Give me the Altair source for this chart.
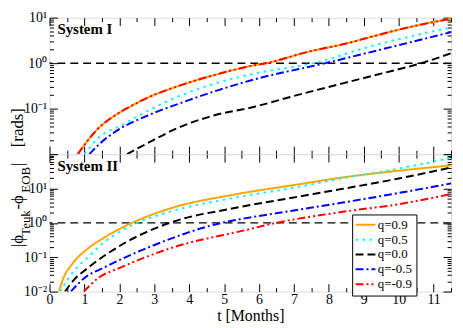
import altair as alt
import pandas as pd

FONT = "Liberation Serif"

QS = ["q=0.9", "q=0.5", "q=0.0", "q=-0.5", "q=-0.9"]
COLORS = ["#FFA500", "#00FFFF", "#000000", "#0000FF", "#FF0000"]
DASHES = [[1, 0], [2.5, 4.5], [8, 4], [8, 3, 2, 3], [8, 3, 2, 3, 2, 3]]

# ---------------- System I ----------------
t1_q09 = [0.81, 1.0, 1.38, 1.85, 2.3, 2.78, 3.72, 4.65, 5.87, 6.2, 7.46, 8.4, 9.33, 10.27, 11.5]
v1_q09 = [0.01, 0.016, 0.036, 0.069, 0.11, 0.17, 0.32, 0.53, 0.9, 1.0, 1.82, 2.6, 4.0, 6.1, 9.5]
t1_q05 = [1.0, 1.38, 2.13, 2.78, 3.72, 4.65, 5.87, 7.56, 9.33, 11.5]
v1_q05 = [0.01, 0.022, 0.046, 0.087, 0.19, 0.34, 0.59, 1.0, 2.5, 6.1]
t1_q00 = [2.22, 2.78, 3.72, 4.65, 5.87, 7.0, 8.4, 9.5, 10.65, 11.5]
v1_q00 = [0.01, 0.017, 0.039, 0.069, 0.11, 0.19, 0.36, 0.59, 1.0, 1.65]
t1_qm05 = [1.14, 1.4, 1.85, 2.78, 3.72, 4.65, 5.87, 7.9, 9.5, 11.5]
v1_qm05 = [0.01, 0.016, 0.030, 0.069, 0.13, 0.23, 0.44, 1.0, 2.0, 4.8]
t1_qm09 = [0.81, 1.0, 1.38, 1.85, 2.3, 2.78, 3.72, 4.65, 5.87, 6.2, 7.46, 8.4, 9.33, 10.27, 11.5]
v1_qm09 = [0.01, 0.016, 0.036, 0.069, 0.11, 0.17, 0.32, 0.53, 0.9, 1.0, 1.82, 2.6, 4.0, 6.1, 9.5]

# ---------------- System II ----------------
t2_q09 = [0.27, 0.4, 0.63, 1.1, 1.56, 2.36, 3.44, 5.3, 7.0, 8.4, 10.0, 11.5]
v2_q09 = [0.01, 0.025, 0.06, 0.18, 0.37, 1.0, 2.6, 6.7, 12.6, 21, 33, 47]
t2_q05 = [0.3, 0.7, 1.1, 1.56, 2.5, 3.44, 5.3, 7.0, 8.4, 10.0, 11.5]
v2_q05 = [0.01, 0.04, 0.1, 0.27, 1.0, 2.1, 5.4, 10.5, 20, 38, 78]
t2_q00 = [0.44, 0.7, 1.1, 2.03, 3.44, 5.3, 7.0, 8.4, 10.0, 11.5]
v2_q00 = [0.01, 0.022, 0.049, 0.22, 1.0, 2.7, 5.5, 9.8, 19.5, 41]
t2_qm05 = [0.61, 1.0, 1.56, 2.97, 4.93, 5.59, 7.0, 8.4, 10.0, 11.5]
v2_qm05 = [0.01, 0.025, 0.05, 0.22, 1.0, 1.35, 2.3, 3.9, 7.4, 14]
t2_qm09 = [0.98, 1.4, 2.03, 3.44, 5.59, 6.5, 8.4, 10.0, 11.5]
v2_qm09 = [0.01, 0.025, 0.05, 0.18, 0.61, 1.0, 2.1, 3.5, 6.9]

X_MAJOR = list(range(0, 12))
X_MINOR = [i + 0.5 for i in range(0, 12)]


def frame(ts, vs, q):
    return pd.DataFrame({"t": ts, "v": vs, "q": q})


sys1 = pd.concat([
    frame(t1_q09, v1_q09, "q=0.9"), frame(t1_q05, v1_q05, "q=0.5"),
    frame(t1_q00, v1_q00, "q=0.0"), frame(t1_qm05, v1_qm05, "q=-0.5"),
    frame(t1_qm09, v1_qm09, "q=-0.9")], ignore_index=True)
sys2 = pd.concat([
    frame(t2_q09, v2_q09, "q=0.9"), frame(t2_q05, v2_q05, "q=0.5"),
    frame(t2_q00, v2_q00, "q=0.0"), frame(t2_qm05, v2_qm05, "q=-0.5"),
    frame(t2_qm09, v2_qm09, "q=-0.9")], ignore_index=True)

W = 406
H1 = 138
H2 = 139

xscale = alt.Scale(domain=[0, 11.5], nice=False, zero=False)


def x_axis(orient, values, size, labels=False, title=None):
    kw = dict(orient=orient, values=values, tickSize=size, offset=-size, domain=False,
              grid=False, labels=labels, tickColor="black", tickWidth=1)
    if labels:
        kw.update(labelFontSize=14, labelFont=FONT, labelColor="black", labelPadding=1,
                  labelFlush=False, labelOverlap=False, format="d")
    if title:
        kw.update(title=title, titleFont=FONT, titleFontSize=16, titleFontWeight="normal",
                  titlePadding=1, titleColor="black")
    else:
        kw.update(title=None)
    return alt.Axis(**kw)


def y_axis(orient, values, size, label_expr=None):
    kw = dict(orient=orient, values=values, tickSize=size, offset=-size, domain=False,
              grid=False, tickColor="black", tickWidth=1, title=None)
    if label_expr:
        kw.update(labels=True, labelExpr=label_expr, labelFontSize=14, labelFont=FONT,
                  labelColor="black", labelPadding=3, labelOverlap=False, labelFlush=False)
    else:
        kw.update(labels=False)
    return alt.Axis(**kw)


def panel(df, ydomain, decades, label_expr, name, show_x, legend, extra=()):
    yscale = alt.Scale(type="log", domain=ydomain, nice=False)
    ymajor = [10.0 ** e for e in decades]
    yminor = [m * 10.0 ** e for e in decades[:-1] for m in range(2, 10)]
    base = alt.Chart(df)
    rule = alt.Chart(pd.DataFrame({"y": [1.0]})).mark_rule(
        color="black", strokeDash=[8, 5], strokeWidth=1.5
    ).encode(y=alt.Y("y:Q", scale=yscale, axis=None))
    lines = base.mark_line(clip=True, strokeWidth=2, interpolate="monotone").encode(
        x=alt.X("t:Q", scale=xscale,
                axis=x_axis("bottom", X_MAJOR, 8, labels=show_x,
                            title="t [Months]" if show_x else None)),
        y=alt.Y("v:Q", scale=yscale, axis=y_axis("left", ymajor, 8, label_expr)),
        color=alt.Color("q:N", scale=alt.Scale(domain=QS, range=COLORS), sort=QS, legend=legend),
        strokeDash=alt.StrokeDash("q:N", scale=alt.Scale(domain=QS, range=DASHES), sort=QS,
                                  legend=legend),
    )
    inv1 = base.mark_point(opacity=0).encode(
        x=alt.X("t:Q", scale=xscale, axis=x_axis("bottom", X_MINOR, 4)),
        y=alt.Y("v:Q", scale=yscale, axis=y_axis("left", yminor, 4)),
    )
    inv2 = base.mark_point(opacity=0).encode(
        x=alt.X("t:Q", scale=xscale, axis=x_axis("top", X_MAJOR, 8)),
        y=alt.Y("v:Q", scale=yscale, axis=y_axis("right", ymajor, 8)),
    )
    inv3 = base.mark_point(opacity=0).encode(
        x=alt.X("t:Q", scale=xscale, axis=x_axis("top", X_MINOR, 4)),
        y=alt.Y("v:Q", scale=yscale, axis=y_axis("right", yminor, 4)),
    )
    label = alt.Chart(pd.DataFrame({"s": [name]})).mark_text(
        align="left", baseline="alphabetic", font=FONT, fontSize=15, fontWeight="bold",
        color="black"
    ).encode(text="s:N", x=alt.value(8), y=alt.value(17))
    layers = [rule, lines, inv1, inv2, inv3, label] + list(extra)
    return alt.layer(*layers).resolve_axis(x="independent", y="independent")


# y-axis title pieces (rotated), placed relative to lower panel
def title_piece(txt, ypos, xpos, size):
    return alt.Chart(pd.DataFrame({"s": [txt]})).mark_text(
        align="left", baseline="top", angle=270, font=FONT, fontSize=size, color="black"
    ).encode(text="s:N", x=alt.value(xpos), y=alt.value(ypos))


title_layers = [
    title_piece("|ϕ", 94, -40, 17),
    title_piece("Teuk", 82.5, -30, 13),
    title_piece("-ϕ", 56, -40, 17),
    title_piece("EOB", 39, -30, 13),
    title_piece("|", 12, -40, 17),
    title_piece("[rads]", -7, -40, 17),
]

legend = alt.Legend(
    title=None, orient="none", legendX=306, legendY=61, fillColor="white",
    strokeColor="black", padding=4, symbolType="M-2,0L2,0", symbolSize=100,
    symbolOffset=3, symbolStrokeWidth=2, labelFont=FONT, labelFontSize=13,
    labelColor="black", labelOffset=6, rowPadding=1, cornerRadius=0,
    columns=1, columnPadding=0,
)

top = panel(
    sys1, [0.01, 10], [-2, -1, 0, 1],
    "datum.value > 5 ? '10¹' : datum.value > 0.5 ? '10⁰' : datum.value > 0.05 ? '10⁻¹' : ''",
    "System I", False, None,
).properties(width=W, height=H1)

bottom = panel(
    sys2, [0.01, 100], [-2, -1, 0, 1, 2],
    "datum.value > 50 ? '' : datum.value > 5 ? '10¹' : datum.value > 0.5 ? '10⁰' : datum.value > 0.05 ? '10⁻¹' : '10⁻²'",
    "System II", True, legend, extra=title_layers,
).properties(width=W, height=H2)

chart = alt.vconcat(top, bottom, spacing=0, bounds="flush").resolve_scale(
    color="independent", strokeDash="independent"
).properties(
    padding={"left": 0, "top": 0, "right": 0, "bottom": 0}
).configure_view(
    stroke="black", strokeWidth=1.2
).configure(background="white")

chart.save("out.html", embed_options={"renderer": "svg", "actions": False})
